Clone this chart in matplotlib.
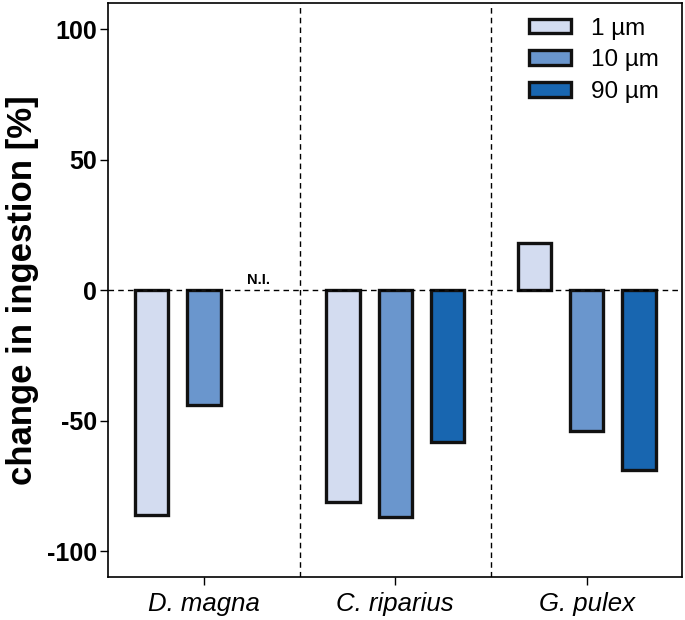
import numpy as np
import matplotlib.pyplot as plt
from matplotlib.patches import Patch

plt.rcParams['font.family'] = ['Liberation Sans', 'DejaVu Sans']

species = ['D. magna', 'C. riparius', 'G. pulex']
sizes = ['1 µm', '10 µm', '90 µm']
colors = ['#D3DCF0', '#6A96CD', '#1866B0']

# change in ingestion [%], NaN = not investigated
vals_1um = [-86, -81, 18]
vals_10um = [-44, -87, -54]
vals_90um = [np.nan, -58, -69]

fig = plt.figure(figsize=(6.85, 6.2), dpi=100)
ax = fig.add_axes([0.158, 0.069, 0.838, 0.926])

x = np.arange(len(species))
width = 0.175
offsets = [-0.273, 0, 0.273]
for vals, off, c, lab in zip([vals_1um, vals_10um, vals_90um], offsets, colors, sizes):
    ax.bar(x + off, vals, width, color=c, edgecolor='#111111', linewidth=2.4,
           label=lab, zorder=3)

ax.axhline(0, color='black', linestyle='--', linewidth=1, dashes=(4, 3), zorder=4)
for xv in [0.5, 1.5]:
    ax.axvline(xv, color='black', linestyle='--', linewidth=1, dashes=(4, 3), zorder=1)

ax.text(0.285, 1.2, 'N.I.', ha='center', va='bottom', fontsize=10.5, fontweight='bold')

ax.set_xlim(-0.5, 2.5)
ax.set_ylim(-110, 110)
ax.set_yticks([100, 50, 0, -50, -100])
ax.set_yticklabels(['100', '50', '0', '-50', '-100'], fontsize=18, fontweight='bold')
ax.set_xticks(x)
ax.set_xticklabels(species, fontsize=18.5, style='italic')
ax.tick_params(axis='both', direction='out', length=6, width=1)
ax.tick_params(axis='y', pad=2)
ax.tick_params(axis='x', pad=5)
ax.set_ylabel('change in ingestion [%]', fontsize=25, fontweight='bold', labelpad=6)

for s in ax.spines.values():
    s.set_linewidth(1.2)

handles = [Patch(facecolor=c, edgecolor='#111111', linewidth=2.4, label=l)
           for c, l in zip(colors, sizes)]
ax.legend(handles=handles, loc='upper right', frameon=False, fontsize=17.5,
          handlelength=1.75, handleheight=0.55, labelspacing=0.4, handletextpad=0.8,
          bbox_to_anchor=(0.997, 1.013))

plt.savefig('out.png', dpi=100)
